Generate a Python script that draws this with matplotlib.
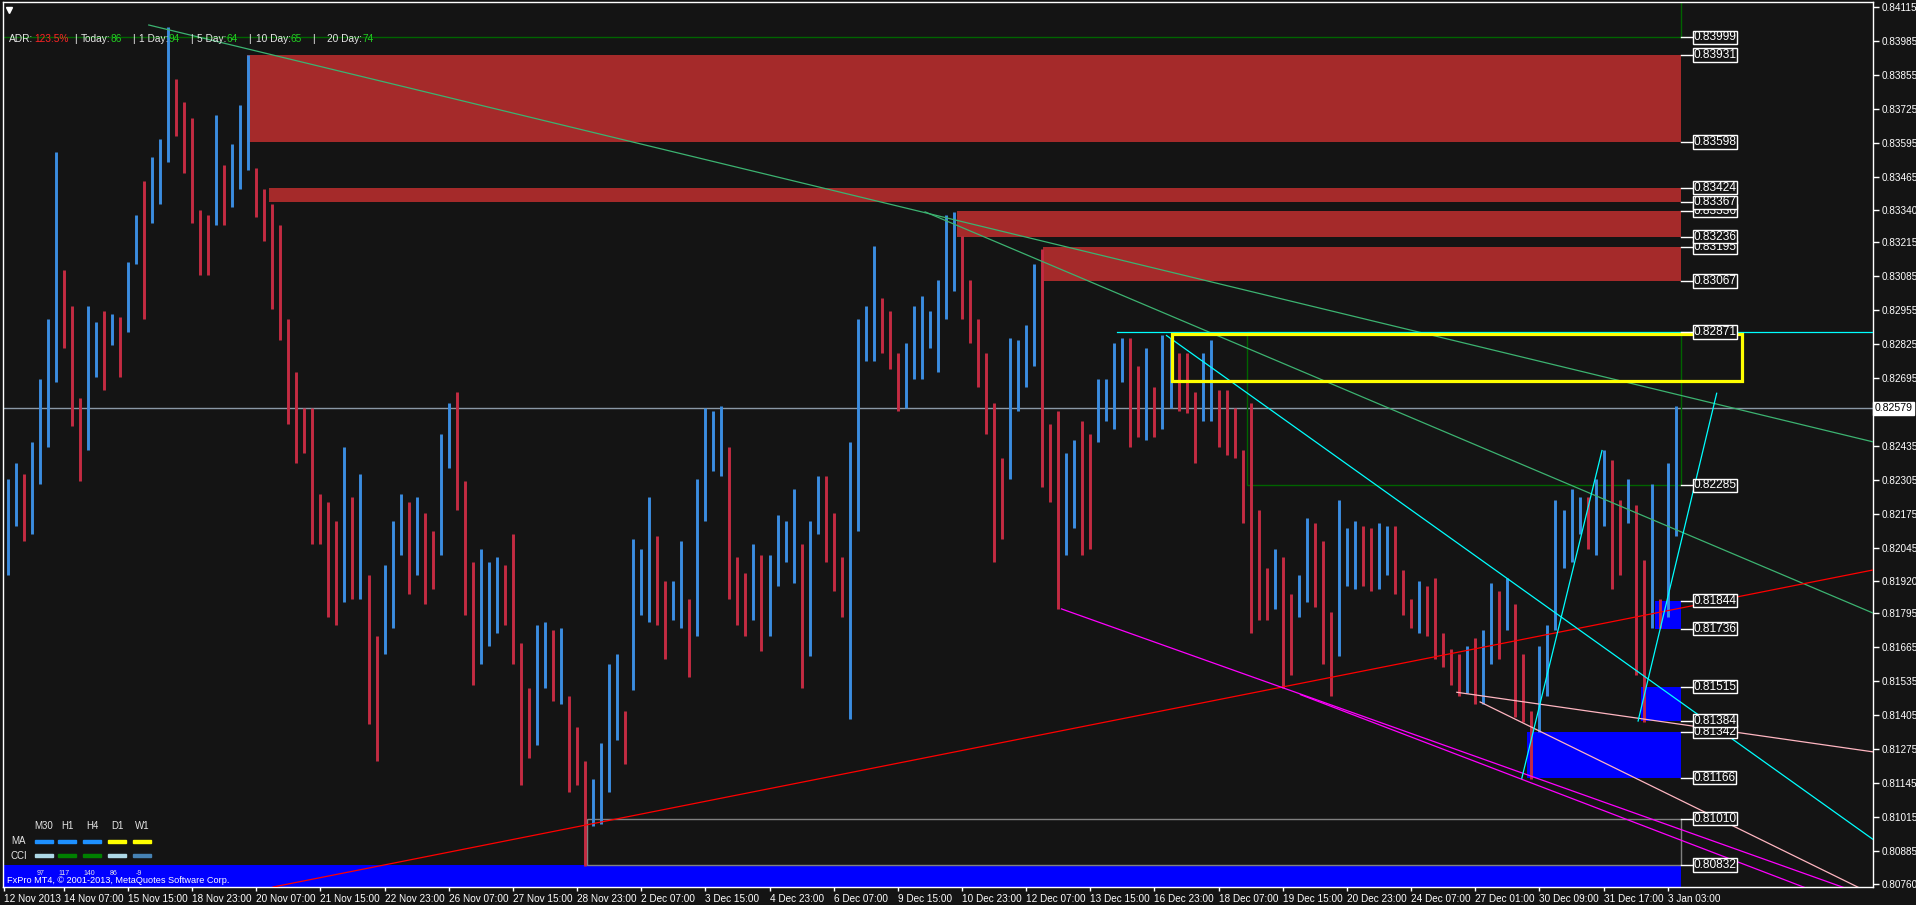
import matplotlib
matplotlib.use('Agg')
import matplotlib.pyplot as plt
from matplotlib.patches import Rectangle

plt.rcParams['font.family'] = ['Liberation Sans', 'DejaVu Sans']

# H1 bars aggregated by 4 (high / low), EURGBP-like price
highs = [0.8231, 0.8237, 0.8233, 0.8245, 0.8269, 0.8292, 0.8356, 0.8311, 0.8297, 0.8262,
         0.8297, 0.8291, 0.8295, 0.8294, 0.8293, 0.8314, 0.8332, 0.8345, 0.8354, 0.8361,
         0.8404, 0.8384, 0.8375, 0.8369, 0.8334, 0.8332, 0.8370, 0.8351, 0.8359, 0.8374,
         0.8393, 0.8350, 0.8342, 0.8336, 0.8328, 0.8292, 0.8272, 0.8258, 0.8258, 0.8225,
         0.8222, 0.8215, 0.8243, 0.8224, 0.8233, 0.8194, 0.8171, 0.8198, 0.8215, 0.8225,
         0.8222, 0.8224, 0.8218, 0.8211, 0.8248, 0.8260, 0.8264, 0.8230, 0.8199, 0.8204,
         0.8199, 0.8201, 0.8198, 0.8210, 0.8168, 0.8151, 0.8175, 0.8176, 0.8173, 0.8174,
         0.8148, 0.8136, 0.8123, 0.8116, 0.8130, 0.8160, 0.8164, 0.8142, 0.8208, 0.8204,
         0.8224, 0.8209, 0.8192, 0.8192, 0.8207, 0.8185, 0.8231, 0.8258, 0.8257, 0.8259,
         0.8243, 0.8201, 0.8195, 0.8206, 0.8202, 0.8202, 0.8217, 0.8215, 0.8227, 0.8206,
         0.8215, 0.8232, 0.8232, 0.8218, 0.8201, 0.8245, 0.8292, 0.8297, 0.8320, 0.8300,
         0.8295, 0.8279, 0.8283, 0.8297, 0.8301, 0.8295, 0.8307, 0.8332, 0.8333, 0.8324,
         0.8307, 0.8292, 0.8279, 0.8260, 0.8239, 0.8285, 0.8284, 0.8290, 0.8313, 0.8319,
         0.8252, 0.8257, 0.8241, 0.8246, 0.8253, 0.8248, 0.8269, 0.8269, 0.8283, 0.8285,
         0.8285, 0.8274, 0.8281, 0.8266, 0.8286, 0.8285, 0.8279, 0.8279, 0.8264, 0.8279,
         0.8284, 0.8265, 0.8265, 0.8258, 0.8242, 0.8260, 0.8219, 0.8197, 0.8204, 0.8201,
         0.8187, 0.8194, 0.8216, 0.8214, 0.8207, 0.8180, 0.8223, 0.8212, 0.8215, 0.8213,
         0.8212, 0.8214, 0.8213, 0.8213, 0.8196, 0.8185, 0.8192, 0.8190, 0.8193, 0.8172,
         0.8166, 0.8164, 0.8167, 0.8170, 0.8173, 0.8191, 0.8188, 0.8193, 0.8183, 0.8164,
         0.8142, 0.8167, 0.8175, 0.8223, 0.8219, 0.8227, 0.8224, 0.8224, 0.8231, 0.8242,
         0.8238, 0.8223, 0.8231, 0.8221, 0.8200, 0.8229, 0.8185, 0.8237, 0.8259]
lows = [0.8194, 0.8213, 0.8207, 0.8210, 0.8229, 0.8243, 0.8268, 0.8281, 0.8251, 0.8230,
        0.8242, 0.8270, 0.8265, 0.8282, 0.8270, 0.8287, 0.8313, 0.8292, 0.8329, 0.8336,
        0.8352, 0.8362, 0.8348, 0.8329, 0.8309, 0.8309, 0.8328, 0.8328, 0.8335, 0.8342,
        0.8349, 0.8331, 0.8322, 0.8296, 0.8284, 0.8252, 0.8237, 0.8241, 0.8206, 0.8206,
        0.8178, 0.8175, 0.8184, 0.8185, 0.8185, 0.8137, 0.8123, 0.8164, 0.8174, 0.8202,
        0.8187, 0.8194, 0.8183, 0.8189, 0.8202, 0.8235, 0.8219, 0.8179, 0.8152, 0.8160,
        0.8167, 0.8172, 0.8175, 0.8160, 0.8114, 0.8124, 0.8129, 0.8151, 0.8146, 0.8145,
        0.8111, 0.8114, 0.8083, 0.8098, 0.8099, 0.8111, 0.8131, 0.8122, 0.8150, 0.8179,
        0.8176, 0.8175, 0.8162, 0.8177, 0.8174, 0.8155, 0.8171, 0.8215, 0.8234, 0.8232,
        0.8185, 0.8175, 0.8171, 0.8177, 0.8165, 0.8171, 0.8190, 0.8199, 0.8191, 0.8151,
        0.8163, 0.8210, 0.8199, 0.8188, 0.8178, 0.8139, 0.8211, 0.8276, 0.8276, 0.8279,
        0.8273, 0.8257, 0.8258, 0.8269, 0.8269, 0.8281, 0.8272, 0.8292, 0.8303, 0.8292,
        0.8283, 0.8266, 0.8248, 0.8199, 0.8208, 0.8231, 0.8257, 0.8266, 0.8274, 0.8228,
        0.8222, 0.8181, 0.8202, 0.8212, 0.8202, 0.8204, 0.8245, 0.8253, 0.8250, 0.8268,
        0.8243, 0.8247, 0.8246, 0.8247, 0.8250, 0.8258, 0.8257, 0.8256, 0.8237, 0.8253,
        0.8253, 0.8243, 0.8240, 0.8239, 0.8214, 0.8172, 0.8177, 0.8177, 0.8181, 0.8151,
        0.8156, 0.8178, 0.8184, 0.8182, 0.8160, 0.8148, 0.8163, 0.8190, 0.8189, 0.8190,
        0.8188, 0.8189, 0.8194, 0.8187, 0.8179, 0.8174, 0.8172, 0.8171, 0.8162, 0.8159,
        0.8152, 0.8148, 0.8149, 0.8145, 0.8145, 0.8160, 0.8162, 0.8173, 0.8140, 0.8138,
        0.8116, 0.8134, 0.8148, 0.8173, 0.8197, 0.8199, 0.8210, 0.8204, 0.8202, 0.8213,
        0.8189, 0.8194, 0.8214, 0.8156, 0.8138, 0.8174, 0.8174, 0.8178, 0.8209]

x_ticks = [-0.5] + [7 + 8 * k for k in range(26)]
x_labels = ['12 Nov 2013', '14 Nov 07:00', '15 Nov 15:00', '18 Nov 23:00', '20 Nov 07:00',
            '21 Nov 15:00', '22 Nov 23:00', '26 Nov 07:00', '27 Nov 15:00', '28 Nov 23:00',
            '2 Dec 07:00', '3 Dec 15:00', '4 Dec 23:00', '6 Dec 07:00', '9 Dec 15:00',
            '10 Dec 23:00', '12 Dec 07:00', '13 Dec 15:00', '16 Dec 23:00', '18 Dec 07:00',
            '19 Dec 15:00', '20 Dec 23:00', '24 Dec 07:00', '27 Dec 01:00', '30 Dec 09:00',
            '31 Dec 17:00', '3 Jan 03:00']
y_ticks = [0.84115, 0.83985, 0.83855, 0.83725, 0.83595, 0.83465, 0.83340, 0.83215, 0.83085,
           0.82955, 0.82825, 0.82695, 0.82435, 0.82305, 0.82175, 0.82045, 0.81920, 0.81795,
           0.81665, 0.81535, 0.81405, 0.81275, 0.81145, 0.81015, 0.80885, 0.80760]
current_price = 0.82579

# supply / demand zones
zone_end = 208.7
supply_start = [29.9, 32.6, 118.4, 129.1]
supply_top = [0.83931, 0.83424, 0.83336, 0.83195]
supply_bottom = [0.83598, 0.83367, 0.83236, 0.83067]
demand_start = [-0.6, 189.5, 203.7, 205.4]
demand_top = [0.80832, 0.81342, 0.81515, 0.81844]
demand_bottom = [0.80700, 0.81166, 0.81384, 0.81736]
level_labels = [0.83999, 0.83931, 0.83598, 0.83424, 0.83367, 0.83336, 0.83236, 0.83195,
                0.83067, 0.82871, 0.82285, 0.81844, 0.81736, 0.81515, 0.81384, 0.81342,
                0.81166, 0.81010, 0.80832]

# trend lines: (bars, prices, colour)
trend_lines = [
    ([17.6, 232.6], [0.84046, 0.82451], '#3cb371'),
    ([114.4, 232.6], [0.83331, 0.81796], '#3cb371'),
    ([33.1, 232.6], [0.80748, 0.81961], '#ff0000'),
    ([131.4, 232.6], [0.81812, 0.80706], '#ff00ff'),
    ([161.2, 232.6], [0.81484, 0.80646], '#ff00ff'),
    ([180.7, 232.6], [0.81493, 0.81265], '#ffb6c1'),
    ([183.6, 232.6], [0.81456, 0.80719], '#ffb6c1'),
    ([144.5, 232.6], [0.82858, 0.80930], '#00ffff'),
    ([188.8, 198.8], [0.81164, 0.82418], '#00ffff'),
    ([203.3, 213.1], [0.81383, 0.82637], '#00ffff'),
    ([138.3, 232.6], [0.82871, 0.82871], '#00ffff'),
]

BG = '#141414'
BLUE = '#3b8de0'
RED = '#c42b42'

fig = plt.figure(figsize=(19.16, 9.05), dpi=100, facecolor=BG)
ax = fig.add_axes([3 / 1916, 18 / 905, 1870 / 1916, 885 / 905])
ax.set_facecolor(BG)
ax.set_xlim(-0.574, 232.59)
ax.set_ylim(0.80748, 0.84134)

# zones (below bars)
for s, t, b in zip(supply_start, supply_top, supply_bottom):
    ax.add_patch(Rectangle((s, b), zone_end - s, t - b, color='#a52a2a', lw=0, zorder=1))
for s, t, b in zip(demand_start, demand_top, demand_bottom):
    ax.add_patch(Rectangle((s, b), zone_end - s, t - b, color='#0000ff', lw=0, zorder=1))

# bars
xs = list(range(len(highs)))
cols = []
prev = (highs[0] + lows[0]) / 2
for h, l in zip(highs, lows):
    mid = (h + l) / 2
    cols.append(BLUE if mid >= prev else RED)
    prev = mid
ax.vlines(xs, lows, highs, colors=cols, lw=2.1, zorder=3)

# horizontal levels / boxes
ax.axhline(current_price, color='#8a98a6', lw=1, zorder=2)
ax.plot([-0.6, zone_end], [0.83999, 0.83999], color='#006400', lw=1, zorder=2)
ax.plot([zone_end, zone_end], [0.83999, 0.8414], color='#006400', lw=1, zorder=2)
ax.add_patch(Rectangle((154.5, 0.82285), zone_end - 154.5, 0.82871 - 0.82285,
                       fill=False, ec='#006400', lw=1, zorder=2))
ax.add_patch(Rectangle((72.2, 0.80832), zone_end - 72.2, 0.81010 - 0.80832,
                       fill=False, ec='#808080', lw=1, zorder=2))
ax.add_patch(Rectangle((145.2, 0.82684), 216.3 - 145.2, 0.82864 - 0.82684,
                       fill=False, ec='#ffff00', lw=2.3, zorder=5))

for xx, yy, c in trend_lines:
    ax.plot(xx, yy, color=c, lw=0.9, zorder=4)

# level labels at the right end of the zones
for p in sorted(level_labels):
    ax.plot([zone_end, 210.0], [p, p], color='white', lw=1, zorder=6)
    ax.text(210.2, p, '%.5f' % p, color='white', fontsize=8.6, va='center', ha='left',
            zorder=7, bbox=dict(boxstyle='square,pad=0.06', fc=BG, ec='white', lw=1))

# axes styling
for sp in ax.spines.values():
    sp.set_color('white')
    sp.set_linewidth(1)
ax.yaxis.tick_right()
ax.set_yticks(y_ticks)
ax.set_yticklabels(['%.5f' % v for v in y_ticks])
ax.tick_params(axis='y', colors='white', labelsize=7.2, length=4, pad=2, width=1)
ax.set_xticks(x_ticks)
ax.set_xticklabels(x_labels)
ax.tick_params(axis='x', colors='white', labelsize=7.2, length=3, pad=2, width=1)
for lab in ax.get_xticklabels():
    lab.set_ha('left')

ax.text(1.001, current_price, '%.5f' % current_price, transform=ax.get_yaxis_transform(),
        color='black', fontsize=7.6, ha='left', va='center', clip_on=False,
        bbox=dict(boxstyle='square,pad=0.15', fc='white', ec='white'))

# overlay in pixel coordinates for info texts
ov = fig.add_axes([0, 0, 1, 1])
ov.set_xlim(0, 1916)
ov.set_ylim(905, 0)
ov.axis('off')

ov.plot([9.5], [10.5], marker='v', color='white', ms=5)

adr_parts = [(9, 'ADR:', '#e6e6e6'), (34, '123.5%', '#ff2424'), (74, '|', '#e6e6e6'),
             (81, 'Today:', '#e6e6e6'), (111, '86', '#22cc22'), (132, '|', '#e6e6e6'),
             (139, '1 Day:', '#e6e6e6'), (169, '94', '#22cc22'), (190, '|', '#e6e6e6'),
             (197, '5 Day:', '#e6e6e6'), (227, '64', '#22cc22'), (248, '|', '#e6e6e6'),
             (256, '10 Day:', '#e6e6e6'), (291, '65', '#22cc22'), (312, '|', '#e6e6e6'),
             (327, '20 Day:', '#e6e6e6'), (363, '74', '#22cc22')]
for x, t, c in adr_parts:
    ov.text(x, 39, t, color=c, fontsize=7.3, ha='left', va='center')

# timeframe legend bottom-left
tf_x = [44, 67, 92, 117, 142]
tf_names = ['M30', 'H1', 'H4', 'D1', 'W1']
ma_colors = ['#1e90ff', '#1e90ff', '#1e90ff', '#ffff00', '#ffff00']
cci_colors = ['#add8e6', '#008000', '#008000', '#add8e6', '#4682b4']
cci_values = ['97', '117', '140', '86', '-9']
for x, n, mc, cc, v in zip(tf_x, tf_names, ma_colors, cci_colors, cci_values):
    ov.text(x, 826, n, color='#e6e6e6', fontsize=7, ha='center', va='center')
    ov.add_patch(Rectangle((x - 9, 839.5), 18, 3.5, color=mc))
    ov.add_patch(Rectangle((x - 9, 853.5), 18, 3.5, color=cc))
    ov.text(x - 3, 873, v, color='#e6e6e6', fontsize=5, ha='center', va='center')
ov.text(11, 841, 'MA', color='#e6e6e6', fontsize=7, ha='left', va='center')
ov.text(11, 856, 'CCI', color='#e6e6e6', fontsize=7, ha='left', va='center')
ov.text(7, 880, 'FxPro MT4, \u00a9 2001-2013, MetaQuotes Software Corp.', color='white',
        fontsize=6.6, ha='left', va='center')

fig.savefig('out.png', dpi=100, facecolor=BG)
